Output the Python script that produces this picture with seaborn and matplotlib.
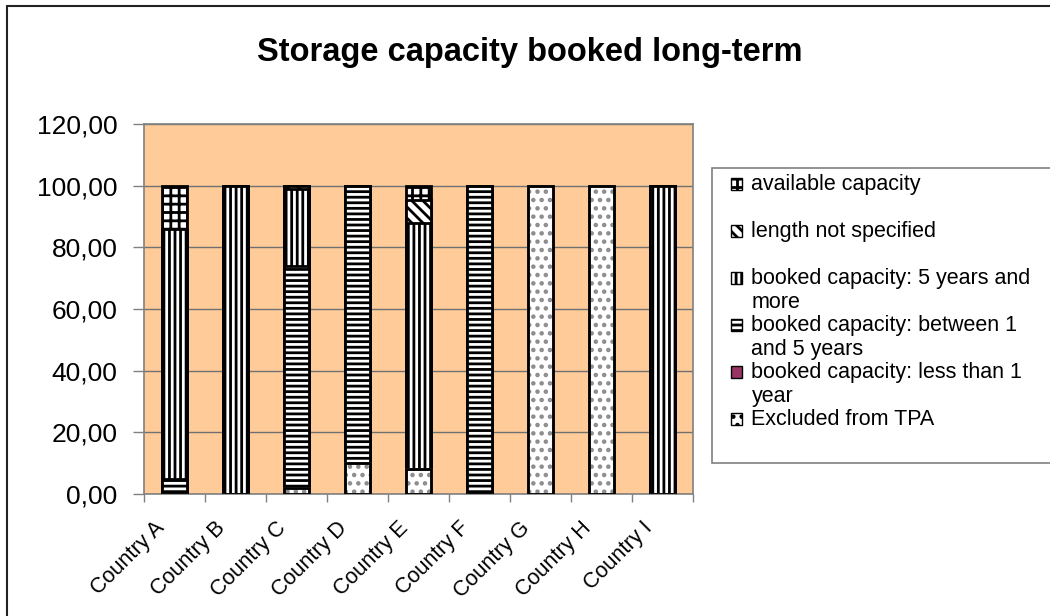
import numpy as np
import seaborn as sns
import matplotlib.pyplot as plt
import matplotlib.patches as mpatches
import matplotlib.transforms as mtransforms
from matplotlib.lines import Line2D
from matplotlib.ticker import FuncFormatter

# Daten
countries = ['Country A', 'Country B', 'Country C', 'Country D', 'Country E',
             'Country F', 'Country G', 'Country H', 'Country I']
excluded = [0, 0, 2, 10, 8, 0, 100, 100, 0]
less_than_1 = [0, 0, 0, 0, 0, 0, 0, 0, 0]
between_1_5 = [5, 0, 72, 90, 0, 100, 0, 0, 0]
five_plus = [81, 100, 25, 0, 80, 0, 0, 0, 100]
not_specified = [0, 0, 1, 0, 7.5, 0, 0, 0, 0]
available = [14, 0, 0, 0, 4.5, 0, 0, 0, 0]

series_labels = ['Excluded from TPA',
                 'booked capacity: less than 1\nyear',
                 'booked capacity: between 1\nand 5 years',
                 'booked capacity: 5 years and\nmore',
                 'length not specified',
                 'available capacity']
y_ticks = [0, 20, 40, 60, 80, 100, 120]

sns.set_theme(style='white')
plt.rcParams['font.family'] = ['Liberation Sans', 'DejaVu Sans']
plt.rcParams['hatch.linewidth'] = 2.0
plt.rcParams['text.color'] = 'black'
plt.rcParams['xtick.labelcolor'] = 'black'
plt.rcParams['ytick.labelcolor'] = 'black'

# Stil pro Serie (Reihenfolge wie series_labels, von unten nach oben)
faces = ['white', '#993366', 'white', 'white', 'white', 'white']
hatches = ['..', None, '---', '|||', '\\\\\\', '++']
edges = ['0.55', 'black', 'black', 'black', 'black', 'black']

fig = plt.figure(figsize=(10.5, 6.16), dpi=100)
ax = fig.add_axes([144 / 1050, 122 / 616, (693 - 144) / 1050, 370 / 616])
ax.set_facecolor('#FFCC99')

layers = np.array([excluded, less_than_1, between_1_5, five_plus, not_specified, available], dtype=float)
cum = np.cumsum(layers, axis=0)

# gestapelte Balken: von oben nach unten zeichnen, kumulierte Höhen überdecken sich
for i in range(len(layers) - 1, -1, -1):
    if layers[i].sum() == 0:
        continue
    sns.barplot(x=countries, y=cum[i], color=faces[i], saturation=1,
                edgecolor=edges[i], linewidth=2, hatch=hatches[i],
                width=0.41, errorbar=None, ax=ax, zorder=3)

# schwarze Umrandung für die Punkt-Serie
sns.barplot(x=countries, y=cum[0], color='black', fill=False, linewidth=2,
            width=0.41, errorbar=None, ax=ax, zorder=4)

ax.set_ylim(0, 120)
ax.set_xlim(-0.5, len(countries) - 0.5)
ax.set_yticks(y_ticks)
ax.yaxis.set_major_formatter(FuncFormatter(lambda v, p: f'{v:.2f}'.replace('.', ',')))
ax.tick_params(axis='y', labelsize=19, length=8, width=1, color='#808080',
               direction='out', pad=11, left=True)
ax.set_xticks(range(len(countries)))
ax.set_xticklabels(countries, rotation=45, ha='right', va='top',
                   rotation_mode='anchor', fontsize=15.5)
ax.tick_params(axis='x', which='major', length=0, pad=12)
shift = mtransforms.ScaledTranslation(-0.21, -0.07, fig.dpi_scale_trans)
for lbl in ax.get_xticklabels():
    lbl.set_transform(lbl.get_transform() + shift)
ax.set_xticks(np.arange(-0.5, len(countries)), minor=True)
ax.tick_params(axis='x', which='minor', length=6, width=1, color='#808080',
               direction='out', bottom=True)
ax.set_xlabel('')
ax.set_ylabel('')
ax.yaxis.grid(True, color='#707070', linewidth=1)
ax.xaxis.grid(False)
ax.set_axisbelow(True)
for s in ax.spines.values():
    s.set_color('#808080')
    s.set_linewidth(1.2)

fig.text(530 / 1050, 1 - 53 / 616, 'Storage capacity booked long-term',
         ha='center', va='center', fontsize=23.5, fontweight='bold')

# äußerer Rahmen
fig.add_artist(Line2D([7 / 1050, 7 / 1050], [0, 1 - 6 / 616], transform=fig.transFigure,
                      color='#222222', linewidth=1.5))
fig.add_artist(Line2D([7 / 1050, 1], [1 - 6 / 616, 1 - 6 / 616], transform=fig.transFigure,
                      color='#222222', linewidth=1.5))

# Legendenrahmen
fig.add_artist(mpatches.Rectangle((712 / 1050, 1 - 463 / 616), 0.4, (463 - 168) / 616,
                                  transform=fig.transFigure, facecolor='white',
                                  edgecolor='#808080', linewidth=1.2))

handles = []
labels = []
for i in range(len(layers) - 1, -1, -1):
    handles.append(mpatches.Patch(facecolor=faces[i], edgecolor='black', hatch=hatches[i], linewidth=1))
    lab = series_labels[i]
    if '\n' not in lab:
        lab = lab + '\n '
    labels.append(lab)

leg = fig.legend(handles, labels, loc='upper left', bbox_to_anchor=(731 / 1050, 1 - 174 / 616),
                 frameon=False, fontsize=15.5, handlelength=0.5, handleheight=0.5,
                 handletextpad=0.45, labelspacing=0.08, borderaxespad=0, borderpad=0)
for p in leg.get_patches():
    p.set_y(p.get_y() + 9.2)

fig.savefig('out.png', dpi=100)
